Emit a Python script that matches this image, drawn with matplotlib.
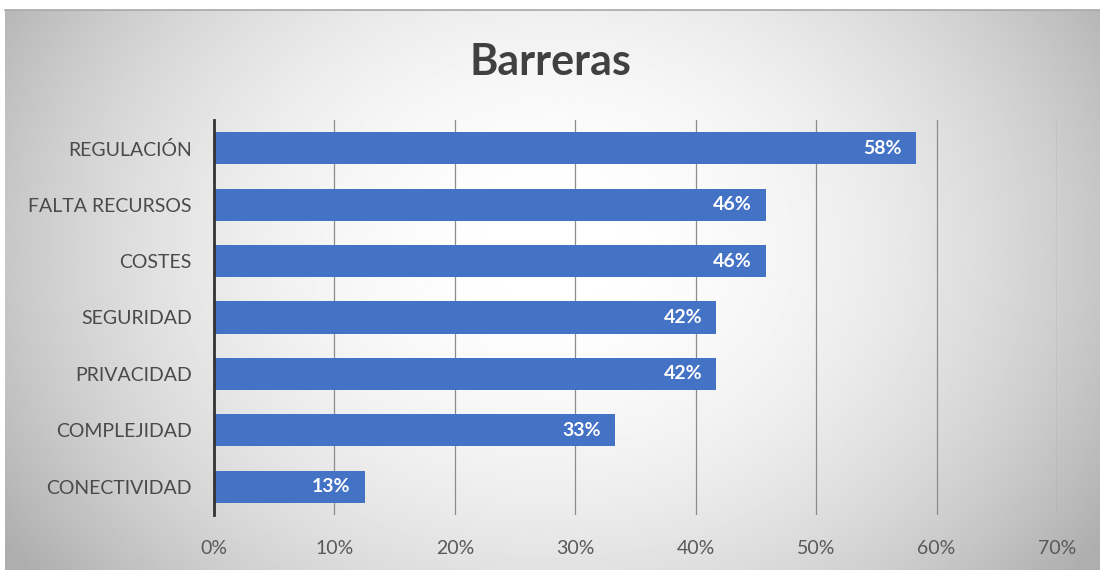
import matplotlib.pyplot as plt
import matplotlib as mpl
import numpy as np

plt.rcParams['font.family'] = ['Lato', 'DejaVu Sans']

categorias = ['REGULACIÓN', 'FALTA RECURSOS', 'COSTES', 'SEGURIDAD',
              'PRIVACIDAD', 'COMPLEJIDAD', 'CONECTIVIDAD']
valores = [58.3, 45.8, 45.8, 41.7, 41.7, 33.3, 12.5]
etiquetas = ['58%', '46%', '46%', '42%', '42%', '33%', '13%']
ticks_x = [0, 10, 20, 30, 40, 50, 60, 70]

fig = plt.figure(figsize=(11, 5.7), dpi=100)

# fondo con degradado radial
bg = fig.add_axes([5 / 1100, 0, 1 - 5 / 1100, 1 - 10 / 570], zorder=0)
yy, xx = np.mgrid[-1:1:300j, -1:1:600j]
r = np.sqrt((xx / 1.0) ** 2 + ((yy + 0.15) / 1.6) ** 2)
r = np.clip(r, 0, 1.2)
bg.imshow(1 - 0.22 * r ** 2, cmap='gray', vmin=0, vmax=1,
          aspect='auto', extent=[0, 1, 0, 1], interpolation='bilinear')
bg.set_axis_off()
fig.add_artist(plt.Line2D([5 / 1100, 1], [1 - 10 / 570] * 2,
                          color='#a8a8a8', lw=1.2))

ax = fig.add_axes([214 / 1100, 1 - 515 / 570, (1057 - 214) / 1100,
                   (515 - 120) / 570], zorder=1)
ax.set_facecolor('none')

y = np.arange(len(categorias))
ax.barh(y, valores, height=0.57, color='#4472C4', zorder=2)
for yi, v, t in zip(y, valores, etiquetas):
    ax.annotate(t, (v, yi), xytext=(-10, 0), textcoords='offset points',
                ha='right', va='center', color='white',
                fontsize=14, fontweight='bold', zorder=3)

ax.set_xlim(0, 70)
ax.set_ylim(len(categorias) - 0.5, -0.5)
ax.set_yticks(y)
ax.set_yticklabels(categorias)
ax.set_xticks(ticks_x)
ax.set_xticklabels([f'{t}%' for t in ticks_x])
ax.tick_params(axis='both', length=0, labelsize=14, colors='#595959')
ax.tick_params(axis='y', pad=16, colors='#4a4a4a')
ax.tick_params(axis='x', pad=18)
ax.grid(axis='x', color='#8c8c8c', lw=0.9, zorder=1)
for s in ['top', 'right', 'bottom']:
    ax.spines[s].set_visible(False)
ax.spines['left'].set_color('#333333')
ax.spines['left'].set_linewidth(2)
ax.spines['left'].set_zorder(4)

fig.text(0.5, 1 - 62 / 570, 'Barreras', ha='center', va='center',
         fontsize=31, fontweight='bold', color='#404040')

plt.savefig('out.png', dpi=100)
